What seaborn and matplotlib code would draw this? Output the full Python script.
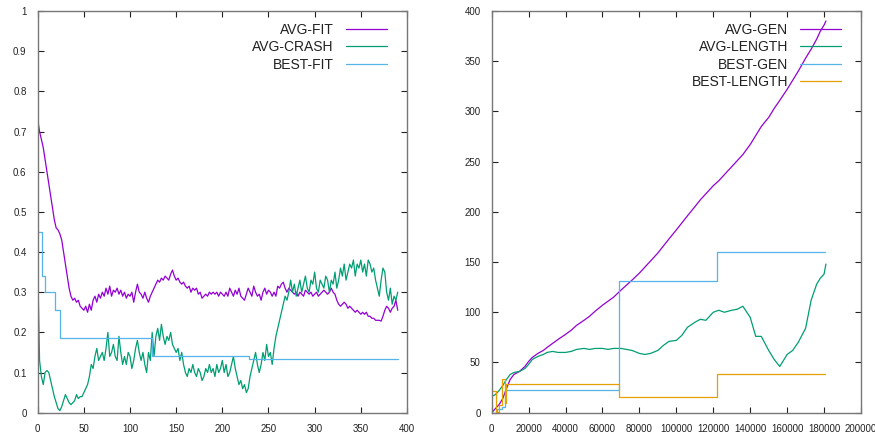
import numpy as np
import matplotlib
matplotlib.use("Agg")
import matplotlib.pyplot as plt
import seaborn as sns

# ---------------- data: left panel (per generation, every 2 generations) ----------------
avg_fit = [0.73, 0.70, 0.68, 0.66, 0.63, 0.60, 0.57, 0.54, 0.51, 0.48,
           0.46, 0.455, 0.445, 0.43, 0.40, 0.37, 0.34, 0.31, 0.29, 0.28,
           0.285, 0.275, 0.28, 0.265, 0.26, 0.255, 0.265, 0.25, 0.27, 0.255,
           0.28, 0.29, 0.275, 0.295, 0.285, 0.30, 0.29, 0.31, 0.295, 0.315,
           0.29, 0.305, 0.30, 0.31, 0.295, 0.305, 0.29, 0.30, 0.285, 0.295,
           0.29, 0.30, 0.275, 0.30, 0.32, 0.30, 0.295, 0.285, 0.30, 0.285,
           0.275, 0.29, 0.30, 0.31, 0.32, 0.33, 0.325, 0.335, 0.33, 0.34,
           0.335, 0.33, 0.345, 0.355, 0.34, 0.33, 0.335, 0.325, 0.32, 0.325,
           0.315, 0.31, 0.315, 0.30, 0.31, 0.305, 0.31, 0.295, 0.30, 0.285,
           0.29, 0.295, 0.29, 0.30, 0.295, 0.30, 0.295, 0.30, 0.29, 0.30,
           0.295, 0.29, 0.30, 0.29, 0.31, 0.30, 0.29, 0.305, 0.295, 0.31,
           0.29, 0.285, 0.28, 0.295, 0.31, 0.30, 0.29, 0.315, 0.30, 0.29,
           0.295, 0.28, 0.30, 0.31, 0.295, 0.305, 0.30, 0.29, 0.30, 0.29,
           0.315, 0.31, 0.32, 0.325, 0.31, 0.30, 0.31, 0.305, 0.30, 0.295,
           0.30, 0.29, 0.30, 0.295, 0.29, 0.305, 0.30, 0.295, 0.30, 0.29,
           0.295, 0.30, 0.29, 0.295, 0.30, 0.305, 0.30, 0.295, 0.30, 0.31,
           0.30, 0.295, 0.28, 0.27, 0.265, 0.27, 0.275, 0.27, 0.26, 0.265,
           0.26, 0.255, 0.25, 0.255, 0.25, 0.245, 0.25, 0.245, 0.25, 0.24,
           0.24, 0.235, 0.235, 0.23, 0.23, 0.23, 0.228, 0.24, 0.255, 0.265,
           0.26, 0.25, 0.26, 0.265, 0.28, 0.255]

avg_crash = [0.37, 0.13, 0.09, 0.07, 0.10, 0.105, 0.10, 0.08, 0.06, 0.04,
             0.025, 0.01, 0.005, 0.015, 0.03, 0.045, 0.035, 0.025, 0.02, 0.025,
             0.03, 0.045, 0.035, 0.04, 0.04, 0.05, 0.06, 0.07, 0.09, 0.12,
             0.11, 0.14, 0.16, 0.13, 0.14, 0.15, 0.13, 0.16, 0.20, 0.14,
             0.15, 0.17, 0.14, 0.13, 0.19, 0.15, 0.12, 0.14, 0.12, 0.15,
             0.14, 0.11, 0.13, 0.16, 0.18, 0.15, 0.13, 0.15, 0.12, 0.10,
             0.15, 0.13, 0.20, 0.14, 0.19, 0.21, 0.18, 0.22, 0.19, 0.17,
             0.19, 0.18, 0.20, 0.17, 0.16, 0.15, 0.16, 0.13, 0.15, 0.12,
             0.10, 0.09, 0.11, 0.10, 0.12, 0.10, 0.09, 0.11, 0.10, 0.08,
             0.09, 0.11, 0.10, 0.12, 0.10, 0.11, 0.09, 0.12, 0.10, 0.11,
             0.13, 0.10, 0.12, 0.09, 0.10, 0.12, 0.14, 0.11, 0.09, 0.07,
             0.08, 0.06, 0.07, 0.05, 0.06, 0.09, 0.11, 0.13, 0.15, 0.12,
             0.10, 0.12, 0.15, 0.13, 0.17, 0.14, 0.15, 0.12, 0.16, 0.19,
             0.21, 0.23, 0.25, 0.27, 0.29, 0.28, 0.30, 0.33, 0.30, 0.32,
             0.29, 0.31, 0.33, 0.30, 0.32, 0.34, 0.31, 0.30, 0.33, 0.32,
             0.35, 0.31, 0.30, 0.33, 0.32, 0.31, 0.34, 0.33, 0.30, 0.33,
             0.32, 0.35, 0.31, 0.33, 0.36, 0.34, 0.37, 0.33, 0.35, 0.37,
             0.36, 0.38, 0.34, 0.37, 0.36, 0.38, 0.35, 0.37, 0.34, 0.38,
             0.37, 0.35, 0.36, 0.33, 0.31, 0.29, 0.33, 0.36, 0.35, 0.30,
             0.28, 0.31, 0.27, 0.29, 0.28, 0.30]

best_fit_x = [0, 5, 8, 19, 24, 124, 229, 390]
best_fit = [0.45, 0.34, 0.30, 0.255, 0.185, 0.14, 0.133, 0.133]

# ---------------- data: right panel ----------------
steps_x = [0, 2000, 4000, 6000, 8000, 10000, 12000, 15000, 18000, 20000,
           22000, 25000, 28000, 30000, 33000, 36000, 40000, 43000, 46000, 50000,
           53000, 56000, 60000, 63000, 66000, 70000, 73000, 76000, 80000, 83000,
           86000, 90000, 93000, 96000, 100000, 103000, 106000, 110000, 113000, 116000,
           120000, 123000, 126000, 130000, 133000, 136000, 140000, 143000, 146000, 150000,
           153000, 156000, 160000, 163000, 166000, 170000, 173000, 176000, 178000, 180000,
           181000]
avg_gen = [0, 4, 8, 14, 24, 33, 38, 41, 46, 51,
           55, 59, 62, 65, 69, 73, 78, 82, 87, 92,
           96, 101, 107, 111, 115, 122, 127, 132, 139, 145,
           151, 159, 166, 173, 182, 189, 196, 205, 212, 218,
           226, 231, 237, 245, 251, 257, 267, 276, 285, 294,
           303, 311, 322, 331, 340, 353, 362, 372, 380, 386,
           390]
avg_length = [16, 18, 22, 27, 33, 38, 40, 41, 44, 48,
              53, 56, 58, 60, 61, 60, 60, 61, 63, 64,
              63, 64, 64, 63, 64, 64, 63, 62, 59, 58,
              59, 62, 67, 71, 72, 77, 85, 90, 93, 92,
              100, 102, 100, 102, 103, 106, 95, 76, 76, 62,
              53, 46, 58, 62, 70, 84, 112, 128, 134, 138,
              148]

best_gen_x = [0, 3000, 5500, 7000, 69000, 122000, 180500]
best_gen = [0, 4, 6, 23, 131, 160, 160]

best_len_x = [0, 2200, 3800, 5500, 7300, 7800, 69000, 122000, 180500]
best_len = [22, 1, 8, 34, 10, 29, 16, 39, 39]

PURPLE = "#9400D3"
GREEN = "#009E73"
BLUE = "#56B4E9"
ORANGE = "#E69F00"

sns.set_style("white")
plt.rcParams["font.family"] = ["Liberation Sans", "DejaVu Sans"]

fig = plt.figure(figsize=(8.75, 4.38), dpi=100)
ax1 = fig.add_axes([0.0431, 0.0578, 0.4220, 0.9171])
ax2 = fig.add_axes([0.5619, 0.0578, 0.4221, 0.9171])

gen = np.arange(0, 2 * len(avg_fit), 2)
lw = 0.9
sns.lineplot(x=gen, y=avg_fit, ax=ax1, color=PURPLE, lw=lw, label="AVG-FIT",
             estimator=None, sort=False)
sns.lineplot(x=gen, y=avg_crash, ax=ax1, color=GREEN, lw=lw, label="AVG-CRASH",
             estimator=None, sort=False)
sns.lineplot(x=best_fit_x, y=best_fit, ax=ax1, color=BLUE, lw=lw, label="BEST-FIT",
             estimator=None, sort=False, drawstyle="steps-post")

sns.lineplot(x=steps_x, y=avg_gen, ax=ax2, color=PURPLE, lw=lw, label="AVG-GEN",
             estimator=None, sort=False)
sns.lineplot(x=steps_x, y=avg_length, ax=ax2, color=GREEN, lw=lw, label="AVG-LENGTH",
             estimator=None, sort=False)
sns.lineplot(x=best_gen_x, y=best_gen, ax=ax2, color=BLUE, lw=lw, label="BEST-GEN",
             estimator=None, sort=False, drawstyle="steps-post")
sns.lineplot(x=best_len_x, y=best_len, ax=ax2, color=ORANGE, lw=lw, label="BEST-LENGTH",
             estimator=None, sort=False, drawstyle="steps-post")

ax1.set_xlim(0, 400)
ax1.set_ylim(0, 1)
ax1.set_xticks(np.arange(0, 401, 50))
ax1.set_yticks(np.arange(0, 1.01, 0.1))
ax1.set_yticklabels(["0", "0.1", "0.2", "0.3", "0.4", "0.5", "0.6", "0.7", "0.8", "0.9", "1"])

ax2.set_xlim(0, 200000)
ax2.set_ylim(0, 400)
ax2.set_xticks(np.arange(0, 200001, 20000))
ax2.set_xticklabels([str(v) for v in range(0, 200001, 20000)])
ax2.set_yticks(np.arange(0, 401, 50))

for ax in (ax1, ax2):
    ax.set_xlabel("")
    ax.set_ylabel("")
    for s in ax.spines.values():
        s.set_color("#777777")
        s.set_linewidth(1.0)
        s.set_visible(True)
    ax.tick_params(axis="both", which="both", direction="in", length=4, width=0.8,
                   color="#222222", labelsize=7, labelcolor="#222222",
                   top=True, right=True, bottom=True, left=True)
    ax.tick_params(axis="x", pad=8)
    ax.tick_params(axis="y", pad=8)

leg1 = ax1.legend(loc="upper right", bbox_to_anchor=(0.96, 0.985), frameon=False,
                  markerfirst=False, fontsize=10, handlelength=2.9,
                  handletextpad=0.9, labelspacing=0.25, borderaxespad=0.0)
leg2 = ax2.legend(loc="upper right", bbox_to_anchor=(0.96, 0.985), frameon=False,
                  markerfirst=False, fontsize=10, handlelength=2.9,
                  handletextpad=0.9, labelspacing=0.25, borderaxespad=0.0)
for leg in (leg1, leg2):
    for t in leg.get_texts():
        t.set_color("#222222")
        t.set_ha("right")

fig.savefig("out.png", dpi=100)
